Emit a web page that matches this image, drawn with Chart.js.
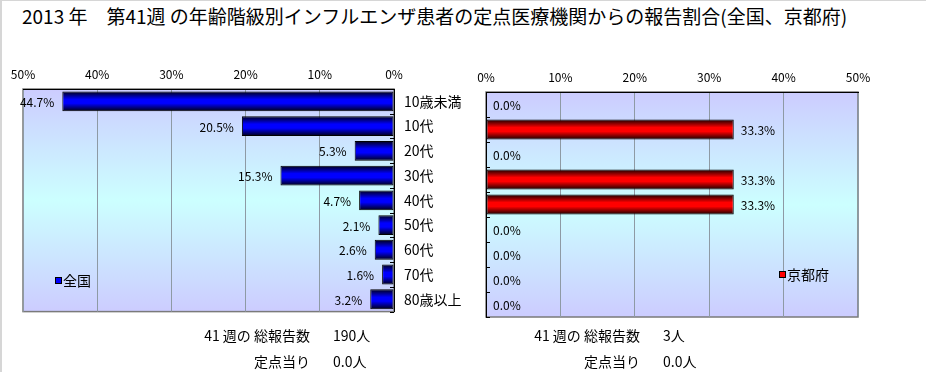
<!DOCTYPE html>
<html lang="ja">
<head>
<meta charset="utf-8">
<script src="https://cdn.jsdelivr.net/npm/chart.js@4.4.1/dist/chart.umd.min.js"></script>
<style>
  body { margin:0; width:926px; height:372px; background:#fff; position:relative; overflow:hidden;
         font-family:"Noto Sans CJK JP", sans-serif; color:#000; }
  .frame { position:absolute; left:0; top:0; width:926px; height:372px; box-sizing:border-box;
           border-left:2px solid #d6d6d6; border-top:1px solid #d6d6d6; }
  #title { position:absolute; left:22px; top:3px; font-size:19px; line-height:26px; white-space:nowrap; }
  canvas { position:absolute; top:0; }
  #left { left:0; }
  #right { left:470px; }
  .legend { position:absolute; font-size:14px; line-height:16px; white-space:nowrap; }
  .sw { display:inline-block; width:5px; height:5px; border:1px solid #000; margin-right:1px; vertical-align:2px; }
  .lbl, .val { position:absolute; font-size:14px; line-height:16px; white-space:nowrap; }
  .lbl { text-align:right; }
</style>
</head>
<body>
<div class="frame"></div>
<div id="title">2013 年　第41週 の年齢階級別インフルエンザ患者の定点医療機関からの報告割合(全国、京都府)</div>
<canvas id="left" width="470" height="330"></canvas>
<canvas id="right" width="456" height="330"></canvas>

<div class="legend" style="left:55px; top:272px;"><span class="sw" style="background:#0000ff"></span>全国</div>
<div class="legend" style="left:779px; top:266px;"><span class="sw" style="background:#ff0000"></span>京都府</div>

<div class="lbl" style="right:616px; top:327px;">41 週の 総報告数</div>
<div class="val" id="natTotal" style="left:333px; top:327px;"></div>
<div class="lbl" style="right:616px; top:353px;">定点当り</div>
<div class="val" id="natPer" style="left:333px; top:353px;"></div>
<div class="lbl" style="right:286px; top:327px;">41 週の 総報告数</div>
<div class="val" id="kyoTotal" style="left:663px; top:327px;"></div>
<div class="lbl" style="right:286px; top:353px;">定点当り</div>
<div class="val" id="kyoPer" style="left:663px; top:353px;"></div>

<script>
const ageGroups = ['10歳未満', '10代', '20代', '30代', '40代', '50代', '60代', '70代', '80歳以上'];
const nationalPct = [44.7, 20.5, 5.3, 15.3, 4.7, 2.1, 2.6, 1.6, 3.2];
const kyotoPct = [0.0, 33.3, 0.0, 33.3, 33.3, 0.0, 0.0, 0.0, 0.0];
const nationalTotal = 190;
const kyotoTotal = 3;
const nationalPerSentinel = 0.0;
const kyotoPerSentinel = 0.0;

const FONT = '"Noto Sans CJK JP", sans-serif';
const barPct = 0.8;

document.getElementById('natTotal').textContent = nationalTotal + '人';
document.getElementById('kyoTotal').textContent = kyotoTotal + '人';
document.getElementById('natPer').textContent = nationalPerSentinel.toFixed(1) + '人';
document.getElementById('kyoPer').textContent = kyotoPerSentinel.toFixed(1) + '人';

// vertical shading on each bar, dark at the edges
const barFill = (dark, bright) => (c) => {
  const chart = c.chart, a = chart.chartArea;
  if (!a || c.type !== 'data') return bright;
  const y = chart.scales.y.getPixelForValue(c.dataIndex);
  const h = (a.bottom - a.top) / ageGroups.length * barPct;
  const g = chart.ctx.createLinearGradient(0, y - h / 2, 0, y + h / 2);
  g.addColorStop(0, dark);
  g.addColorStop(0.4, bright);
  g.addColorStop(0.6, bright);
  g.addColorStop(1, dark);
  return g;
};

const decor = {
  id: 'decor',
  beforeDraw(chart) {
    const { ctx, chartArea: a } = chart;
    const g = ctx.createLinearGradient(0, a.top, 0, a.bottom);
    g.addColorStop(0, '#ccccff');
    g.addColorStop(0.5, '#ccffff');
    g.addColorStop(1, '#ccccff');
    ctx.save();
    ctx.fillStyle = g;
    ctx.fillRect(a.left, a.top, a.right - a.left, a.bottom - a.top);
    ctx.strokeStyle = '#7a7a7a';
    ctx.lineWidth = 1.5;
    ctx.strokeRect(a.left, a.top, a.right - a.left, a.bottom - a.top);
    ctx.restore();
  },
  afterDatasetsDraw(chart, args, opts) {
    const { ctx, chartArea: a } = chart;
    const ys = chart.scales.y;
    const toRight = opts.axisSide === 'left';
    const ax = toRight ? a.left : a.right;
    ctx.save();
    // little category ticks pointing into the plot
    ctx.strokeStyle = '#000';
    ctx.lineWidth = 1;
    for (let i = 1; i <= ageGroups.length; i++) {
      const y = Math.round(ys.getPixelForValue(i - 0.5)) + 0.5;
      ctx.beginPath();
      ctx.moveTo(ax, y);
      ctx.lineTo(ax + (toRight ? 4 : -4), y);
      ctx.stroke();
    }
    // value labels
    const ds = chart.data.datasets[0];
    ctx.font = '12px ' + FONT;
    ctx.fillStyle = '#000';
    ctx.textBaseline = 'middle';
    ctx.textAlign = toRight ? 'left' : 'right';
    chart.getDatasetMeta(0).data.forEach((el, i) => {
      const txt = ds.data[i].toFixed(1) + '%';
      ctx.fillText(txt, el.x + (toRight ? 7 : -8), el.y + 1);
    });
    ctx.restore();
  }
};

const axisX = (reverse, height) => ({
  position: 'top',
  reverse: reverse,
  min: 0,
  max: 50,
  ticks: { stepSize: 10, callback: v => v + '%', padding: 7, color: '#000', font: { size: 12, family: FONT } },
  grid: { color: '#8e9aa4', drawTicks: false },
  border: { color: '#000' },
  afterFit: s => { s.height = height; }
});

new Chart('left', {
  type: 'bar',
  data: {
    labels: ageGroups,
    datasets: [{
      label: '全国',
      data: nationalPct,
      backgroundColor: barFill('#000014', '#0000ff'),
      borderColor: '#000',
      borderWidth: 1,
      borderSkipped: false,
      barPercentage: barPct,
      categoryPercentage: 1
    }]
  },
  options: {
    indexAxis: 'y',
    responsive: false,
    animation: false,
    layout: { padding: { left: 23, top: 0, right: 0, bottom: 16 } },
    plugins: { legend: { display: false }, tooltip: { enabled: false }, decor: { axisSide: 'right' } },
    scales: {
      x: axisX(true, 89),
      y: {
        position: 'right',
        ticks: { padding: 10, color: '#000', font: { size: 14, family: FONT } },
        grid: { drawOnChartArea: false, drawTicks: false },
        border: { color: '#000' },
        afterFit: s => { s.width = 76; }
      }
    }
  },
  plugins: [decor]
});

new Chart('right', {
  type: 'bar',
  data: {
    labels: ageGroups,
    datasets: [{
      label: '京都府',
      data: kyotoPct,
      backgroundColor: barFill('#140000', '#ff0000'),
      borderColor: '#000',
      borderWidth: 1,
      borderSkipped: false,
      barPercentage: barPct,
      categoryPercentage: 1
    }]
  },
  options: {
    indexAxis: 'y',
    responsive: false,
    animation: false,
    layout: { padding: { left: 0, top: 0, right: 68, bottom: 13 } },
    plugins: { legend: { display: false }, tooltip: { enabled: false }, decor: { axisSide: 'left' } },
    scales: {
      x: axisX(false, 92),
      y: {
        position: 'left',
        ticks: { display: false },
        grid: { drawOnChartArea: false, drawTicks: false },
        border: { color: '#000' },
        afterFit: s => { s.width = 16; }
      }
    }
  },
  plugins: [decor]
});
</script>
</body>
</html>
